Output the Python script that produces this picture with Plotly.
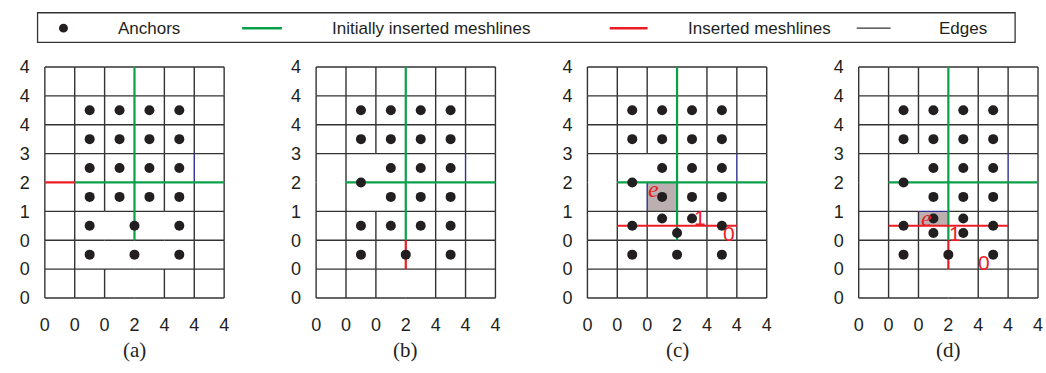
import plotly.graph_objects as go

# ---------------- data ----------------
panel_labels = ["(a)", "(b)", "(c)", "(d)"]
x_tick_vals = [0, 1, 2, 3, 4, 5, 6]
x_tick_text = ["0", "0", "0", "2", "4", "4", "4"]
y_tick_vals = [0, 1, 2, 3, 4, 5, 6, 7, 8]
y_tick_text = ["0", "0", "0", "1", "2", "3", "4", "4", "4"]
n_cols = 6
n_rows = 8

legend_names = ["Anchors", "Initially inserted meshlines", "Inserted meshlines", "Edges"]

# anchors per panel
anchors_a_x = [1.5, 2.5, 3.5, 4.5, 1.5, 2.5, 3.5, 4.5, 1.5, 2.5, 3.5, 4.5, 1.5, 2.5, 3.5, 4.5, 1.5, 3, 4.5, 1.5, 3, 4.5]
anchors_a_y = [6.5, 6.5, 6.5, 6.5, 5.5, 5.5, 5.5, 5.5, 4.5, 4.5, 4.5, 4.5, 3.5, 3.5, 3.5, 3.5, 2.5, 2.5, 2.5, 1.5, 1.5, 1.5]

anchors_b_x = [1.5, 2.5, 3.5, 4.5, 1.5, 2.5, 3.5, 4.5, 2.5, 3.5, 4.5, 1.5, 2.5, 3.5, 4.5, 1.5, 2.5, 3.5, 4.5, 1.5, 3, 4.5]
anchors_b_y = [6.5, 6.5, 6.5, 6.5, 5.5, 5.5, 5.5, 5.5, 4.5, 4.5, 4.5, 4, 3.5, 3.5, 3.5, 2.5, 2.5, 2.5, 2.5, 1.5, 1.5, 1.5]

anchors_c_x = [1.5, 2.5, 3.5, 4.5, 1.5, 2.5, 3.5, 4.5, 2.5, 3.5, 4.5, 1.5, 2.5, 3.5, 4.5, 2.5, 3.5, 1.5, 4.5, 3, 1.5, 3, 4.5]
anchors_c_y = [6.5, 6.5, 6.5, 6.5, 5.5, 5.5, 5.5, 5.5, 4.5, 4.5, 4.5, 4, 3.5, 3.5, 3.5, 2.75, 2.75, 2.5, 2.5, 2.25, 1.5, 1.5, 1.5]

anchors_d_x = [1.5, 2.5, 3.5, 4.5, 1.5, 2.5, 3.5, 4.5, 2.5, 3.5, 4.5, 1.5, 2.5, 3.5, 4.5, 2.5, 3.5, 1.5, 4.5, 2.5, 3.5, 1.5, 3, 4.5]
anchors_d_y = [6.5, 6.5, 6.5, 6.5, 5.5, 5.5, 5.5, 5.5, 4.5, 4.5, 4.5, 4, 3.5, 3.5, 3.5, 2.75, 2.75, 2.5, 2.5, 2.25, 2.25, 1.5, 1.5, 1.5]

# segments: (x0, y0, x1, y1)
green_a = [(3, 2, 3, 8), (1, 4, 6, 4)]
green_b = [(3, 2, 3, 8), (1, 4, 6, 4)]
green_c = [(3, 2, 3, 8), (1, 4, 6, 4)]
green_d = [(3, 2, 3, 8), (1, 4, 6, 4)]

red_a = [(0, 4, 1, 4)]
red_b = [(3, 1, 3, 2)]
red_c = [(1, 2.5, 5, 2.5)]
red_d = [(1, 2.5, 5, 2.5), (3, 1, 3, 2)]

blue_a = [(5, 4, 5, 5)]
blue_b = [(5, 4, 5, 5)]
blue_c = [(5, 4, 5, 5), (2, 3, 2, 4)]
blue_d = [(5, 4, 5, 5), (2, 3, 3, 3)]

# missing edge pieces of the full grid (T-mesh gaps)
gaps_a = [(2, 1, 2, 3), (4, 1, 4, 3), (3, 0, 3, 2)]
gaps_b = [(2, 3, 2, 5), (3, 0, 3, 1), (0, 4, 1, 4)]
gaps_c = [(2, 4, 2, 5), (3, 0, 3, 2), (0, 4, 1, 4)]
gaps_d = [(2, 3, 2, 5), (3, 0, 3, 1), (0, 4, 1, 4)]

# highlighted element e
cell_c = (2, 3, 3, 4)
cell_d = (2, 2.5, 3, 3)

# red annotation labels
labels_c_text = ["e", "1", "0"]
labels_c_x = [2.2, 3.78, 4.75]
labels_c_y = [3.77, 2.8, 2.24]
labels_d_text = ["e", "1", "0"]
labels_d_x = [2.26, 3.23, 4.2]
labels_d_y = [2.77, 2.24, 1.24]

panels = [
    dict(ax=anchors_a_x, ay=anchors_a_y, green=green_a, red=red_a, blue=blue_a, gaps=gaps_a, cell=None, lt=[], lx=[], ly=[]),
    dict(ax=anchors_b_x, ay=anchors_b_y, green=green_b, red=red_b, blue=blue_b, gaps=gaps_b, cell=None, lt=[], lx=[], ly=[]),
    dict(ax=anchors_c_x, ay=anchors_c_y, green=green_c, red=red_c, blue=blue_c, gaps=gaps_c, cell=cell_c,
         lt=labels_c_text, lx=labels_c_x, ly=labels_c_y),
    dict(ax=anchors_d_x, ay=anchors_d_y, green=green_d, red=red_d, blue=blue_d, gaps=gaps_d, cell=cell_d,
         lt=labels_d_text, lx=labels_d_x, ly=labels_d_y),
]

# ---------------- styling ----------------
W, H = 1046, 373
EDGE = "#333333"
GREEN = "#0aa04a"
RED = "#ec1c24"
BLUE = "#2e3192"
DOT = "#231f20"
CELL = "#bcafaf"
SANS = "Liberation Sans, Arial, sans-serif"
SERIF = "Liberation Serif, Times New Roman, serif"

pad = 0.1
unit = 30.0
left0 = 43.0
step = 272.33
top_px = 62.3
bot_px = 302.3


def covered(seg, segs):
    x0, y0, x1, y1 = seg
    for (a0, b0, a1, b1) in segs:
        if a0 == a1 and x0 == x1 == a0:
            lo, hi = min(b0, b1), max(b0, b1)
            if lo <= min(y0, y1) and max(y0, y1) <= hi:
                return True
        if b0 == b1 and y0 == y1 == b0:
            lo, hi = min(a0, a1), max(a0, a1)
            if lo <= min(x0, x1) and max(x0, x1) <= hi:
                return True
    return False


def seg_xy(segs):
    xs, ys = [], []
    for (x0, y0, x1, y1) in segs:
        xs += [x0, x1, None]
        ys += [y0, y1, None]
    return xs, ys


fig = go.Figure()
layout = dict(
    width=W, height=H,
    margin=dict(l=0, r=0, t=0, b=0),
    paper_bgcolor="white", plot_bgcolor="white",
    showlegend=False,
    shapes=[], annotations=[],
)

for i, p in enumerate(panels):
    k = "" if i == 0 else str(i + 1)
    xa, ya = "x" + k, "y" + k
    left = left0 + i * step
    x_dom = [(left - pad * unit) / W, (left + n_cols * unit + pad * unit) / W]
    y_dom = [1 - (bot_px + pad * unit) / H, 1 - (top_px - pad * unit) / H]
    layout["xaxis" + k] = dict(
        domain=x_dom, anchor=ya, range=[-pad, n_cols + pad],
        tickvals=x_tick_vals, ticktext=x_tick_text, ticks="",
        showgrid=False, zeroline=False, showline=False,
        tickfont=dict(family=SANS, size=18, color=DOT), ticklabelstandoff=11,
        fixedrange=True,
    )
    layout["yaxis" + k] = dict(
        domain=y_dom, anchor=xa, range=[-pad, n_rows + pad],
        tickvals=y_tick_vals, ticktext=y_tick_text, ticks="",
        showgrid=False, zeroline=False, showline=False,
        tickfont=dict(family=SANS, size=18, color=DOT), ticklabelstandoff=11,
        fixedrange=True,
    )

    # highlighted cell
    if p["cell"] is not None:
        cx0, cy0, cx1, cy1 = p["cell"]
        fig.add_trace(go.Scatter(
            x=[cx0, cx1, cx1, cx0, cx0], y=[cy0, cy0, cy1, cy1, cy0],
            mode="lines", fill="toself", fillcolor=CELL, line=dict(width=0),
            xaxis=xa, yaxis=ya, hoverinfo="skip"))

    # black edges: full grid minus gaps and colored pieces
    colored = p["green"] + p["red"] + p["blue"]
    edges = []
    for gx in range(n_cols + 1):
        for gy in range(n_rows):
            s = (gx, gy, gx, gy + 1)
            if not covered(s, p["gaps"]) and not covered(s, colored):
                edges.append(s)
    for gy in range(n_rows + 1):
        for gx in range(n_cols):
            s = (gx, gy, gx + 1, gy)
            if not covered(s, p["gaps"]) and not covered(s, colored):
                edges.append(s)
    ex, ey = seg_xy(edges)
    fig.add_trace(go.Scatter(x=ex, y=ey, mode="lines", line=dict(color=EDGE, width=1.4),
                             xaxis=xa, yaxis=ya, hoverinfo="skip", name=legend_names[3]))

    for segs, col, wd, nm in [(p["blue"], BLUE, 1.4, "blue"), (p["green"], GREEN, 2.2, legend_names[1]),
                              (p["red"], RED, 2.2, legend_names[2])]:
        sx, sy = seg_xy(segs)
        fig.add_trace(go.Scatter(x=sx, y=sy, mode="lines", line=dict(color=col, width=wd),
                                 xaxis=xa, yaxis=ya, hoverinfo="skip", name=nm))

    fig.add_trace(go.Scatter(x=p["ax"], y=p["ay"], mode="markers",
                             marker=dict(color=DOT, size=10, line=dict(width=0)),
                             xaxis=xa, yaxis=ya, cliponaxis=False, name=legend_names[0]))

    # red labels
    for t, lx, ly in zip(p["lt"], p["lx"], p["ly"]):
        if t == "e":
            fnt = dict(family=SERIF, size=24, color=RED)
            txt = "<i>e</i>"
        else:
            fnt = dict(family=SANS, size=21, color=RED)
            txt = t
        layout["annotations"].append(dict(x=lx, y=ly, xref=xa, yref=ya, text=txt, showarrow=False,
                                          font=fnt, xanchor="center", yanchor="middle"))

    # panel caption
    layout["annotations"].append(dict(
        x=(left + n_cols * unit / 2) / W, y=1 - 356 / H, xref="paper", yref="paper",
        text=panel_labels[i], showarrow=False, font=dict(family=SERIF, size=21, color=DOT),
        xanchor="center", yanchor="middle"))

# ---------------- legend (manual, top box) ----------------
def px(x):
    return x / W


def py(y):
    return 1 - y / H


ly_c = 22.0
layout["shapes"].append(dict(type="rect", xref="paper", yref="paper",
                             x0=px(35.7), x1=px(1017), y0=py(36.7), y1=py(6),
                             line=dict(color="#333333", width=1.3), fillcolor="rgba(0,0,0,0)"))
layout["shapes"].append(dict(type="circle", xref="paper", yref="paper",
                             x0=px(61.7 - 4.5), x1=px(61.7 + 4.5), y0=py(ly_c + 4.5), y1=py(ly_c - 4.5),
                             line=dict(width=0), fillcolor=DOT))
for (x0, x1, col, wd) in [(241, 281, GREEN, 2.5), (610, 648, RED, 2.5), (858, 892, "#333333", 1.3)]:
    layout["shapes"].append(dict(type="line", xref="paper", yref="paper",
                                 x0=px(x0), x1=px(x1), y0=py(ly_c), y1=py(ly_c),
                                 line=dict(color=col, width=wd)))
for name, cx in zip(legend_names, [147.5, 430.5, 760.5, 964.5]):
    layout["annotations"].append(dict(x=px(cx), y=py(ly_c), xref="paper", yref="paper", text=name,
                                      showarrow=False, font=dict(family=SANS, size=17, color=DOT),
                                      xanchor="center", yanchor="middle"))

fig.update_layout(**layout)
fig.write_html("out.html")
